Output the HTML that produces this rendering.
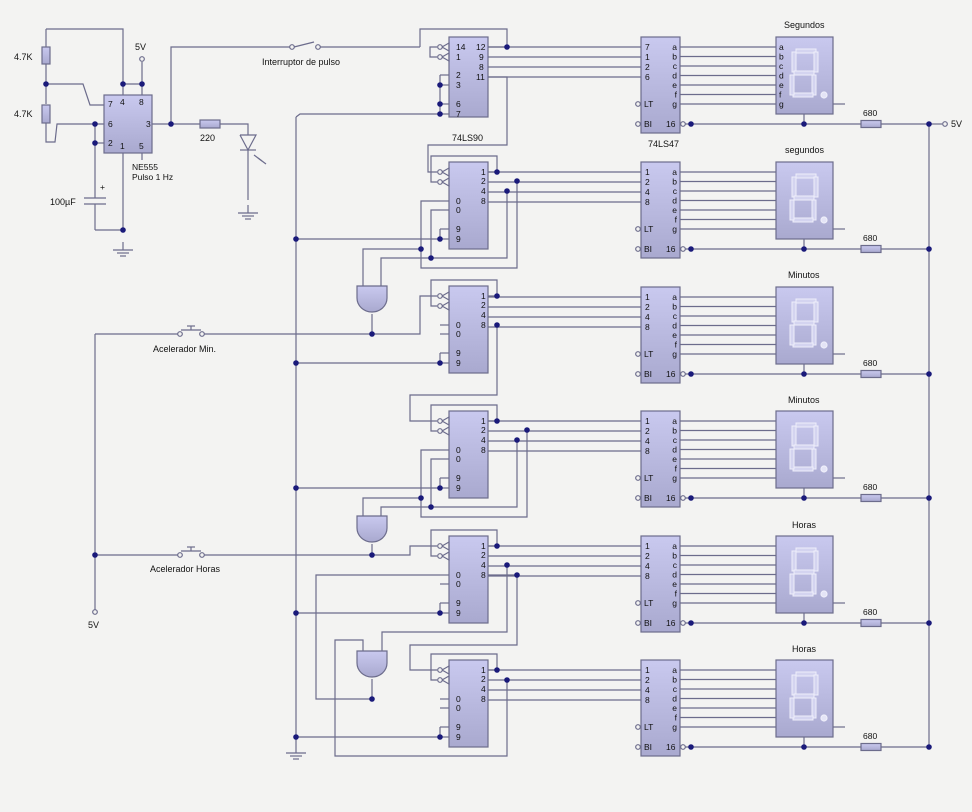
<!DOCTYPE html>
<html><head><meta charset="utf-8">
<style>
html,body{margin:0;padding:0;background:#f3f3f2;}
svg{display:block;}
text{font-family:"Liberation Sans",sans-serif;font-size:8.5px;fill:#111;}
.l{font-size:9px;}
</style></head><body>
<svg id="s" width="972" height="812" viewBox="0 0 972 812" xmlns="http://www.w3.org/2000/svg">
<defs>
<linearGradient id="g" x1="0" y1="0" x2="0" y2="1"><stop offset="0" stop-color="#c9c9ef"/><stop offset="1" stop-color="#a9a9cf"/></linearGradient>
</defs>
<g id="geo" stroke="#6c6c8c" stroke-width="1.2" fill="none"></g>
<g id="txt">
<text x="14" y="60" class="l">4.7K</text>
<text x="14" y="117" class="l">4.7K</text>
<text x="135" y="50" class="l">5V</text>
<text x="108" y="107">7</text><text x="120" y="105">4</text><text x="139" y="105">8</text>
<text x="108" y="127">6</text><text x="146" y="127">3</text>
<text x="108" y="146">2</text><text x="120" y="149">1</text><text x="139" y="149">5</text>
<text x="132" y="170">NE555</text><text x="132" y="180">Pulso 1 Hz</text>
<text x="200" y="141" class="l">220</text>
<text x="100" y="190">+</text>
<text x="50" y="205" class="l">100µF</text>
<text x="262" y="65" class="l">Interruptor de pulso</text>
<text x="452" y="141" class="l">74LS90</text>
<text x="648" y="147" class="l">74LS47</text>
<text x="153" y="352" class="l">Acelerador Min.</text>
<text x="150" y="572" class="l">Acelerador Horas</text>
<text x="88" y="628" class="l">5V</text>
<text x="951" y="127" class="l">5V</text>
<text x="456" y="50">14</text><text x="456" y="60">1</text><text x="456" y="78">2</text><text x="456" y="88">3</text><text x="456" y="107">6</text><text x="456" y="117">7</text>
<text x="476" y="50">12</text><text x="479" y="60">9</text><text x="479" y="70">8</text><text x="476" y="80">11</text>
<text x="784" y="28" class="l">Segundos</text>
<text x="785" y="153" class="l">segundos</text>
<text x="788" y="278" class="l">Minutos</text>
<text x="788" y="403" class="l">Minutos</text>
<text x="792" y="528" class="l">Horas</text>
<text x="792" y="652" class="l">Horas</text>
</g>
<g id="dots" fill="#1a1a7a"></g>
</svg>
<script>
const NS="http://www.w3.org/2000/svg";
const geo=document.getElementById('geo'),dots=document.getElementById('dots'),txt=document.getElementById('txt');
function el(p,n,a){const e=document.createElementNS(NS,n);for(const k in a)e.setAttribute(k,a[k]);p.appendChild(e);return e;}
function P(pts){el(geo,'polyline',{points:pts});}
function L(x1,y1,x2,y2){el(geo,'line',{x1,y1,x2,y2});}
function D(x,y){el(dots,'circle',{cx:x,cy:y,r:2.8});}
function R(x,y,w,h){el(geo,'rect',{x,y,width:w,height:h,fill:'url(#g)'});}
function O(x,y){el(geo,'circle',{cx:x,cy:y,r:2.3,fill:'#f3f3f2'});}
function T(x,y,s,anchor){const t=el(txt,'text',{x,y});if(anchor)t.setAttribute('text-anchor',anchor);t.textContent=s;}
function G(x,y){L(x,y,x,y+8);L(x-10,y+8,x+10,y+8);L(x-6,y+11,x+6,y+11);L(x-3,y+14,x+3,y+14);}
function clk(x,y){O(x-9,y);P(`${x-7},${y} ${x},${y-4} ${x},${y+4} ${x-7},${y}`);}
function AND(x,y){el(geo,'path',{d:`M${x} ${y} h30 v12 a15 14 0 0 1 -30 0 z`,fill:'url(#g)'});}

// 555
P("46,29 123,29 123,95");
L(46,29,46,104);R(42,47,8,17);
D(46,84);P("46,84 83,84 90,105 104,105");
R(42,105,8,18);P("46,123 46,142 55,142 57,124 104,124");
D(95,124);D(95,143);L(95,143,104,143);L(95,124,95,198);
L(84,198,106,198);L(84,204,106,204);
L(95,204,95,230);P("95,230 123,230");L(123,153,123,230);D(123,230);G(123,242);
D(123,84);D(142,84);L(123,84,142,84);L(142,62,142,95);O(142,59);
R(104,95,48,58);
L(142,153,142,160);
L(152,124,200,124);D(171,124);P("171,124 171,47 290,47");
O(292,47);O(318,47);L(294,47,314,42);L(320,47,420,47);
R(200,120,20,8);P("220,124 248,124 248,135");
P("240,135 256,135 248,150 240,135");L(240,150,256,150);L(248,150,248,200);G(248,205);
L(254,155,262,161);L(258,158,266,164);
// switches
L(95,334,95,610);O(95,612);D(95,555);
L(95,334,178,334);O(180,334);O(202,334);L(204,334,372,334);
L(181,330,201,330);L(191,326,191,330);L(187,326,195,326);
L(95,555,178,555);O(180,555);O(202,555);L(204,555,372,555);
L(181,551,201,551);L(191,547,191,551);L(187,547,195,547);

// ground bus
L(296,117,296,745);G(296,745);P("296,117 300,114 440,114");

// counter 0
R(449,37,39,80);
P("420,47 420,29 507,29 507,47");D(507,47);
clk(449,47);clk(449,57);P("437,47 430,47 430,57 437,57");
L(488,47,507,47);
L(440,75,449,75);L(440,85,449,85);L(440,104,449,104);L(440,114,449,114);
L(440,75,440,114);D(440,85);D(440,104);D(440,114);

// counters 1..5
const CT=[162,286,411,536,660];
CT.forEach((t,i)=>{
  R(449,t,39,87);
  clk(449,t+10);clk(449,t+20);
  T(481,t+13,"1");T(481,t+22,"2");T(481,t+32,"4");T(481,t+42,"8");
  T(456,t+42,"0");T(456,t+51,"0");T(456,t+70,"9");T(456,t+80,"9");
  L(440,t+39,449,t+39);L(440,t+48,449,t+48);L(440,t+67,449,t+67);L(440,t+77,449,t+77);
  L(440,t+67,440,t+77);D(440,t+77);L(296,t+77,440,t+77);D(296,t+77);
  D(497,t+10);
  P(`488,${t+10} 497,${t+10} 497,${t-6} 431,${t-6} 431,${t+20} 437,${t+20}`);
});
// clock1 inputs
P("488,77 507,77 507,145 428,145 428,172 437,172");
P("372,334 420,334 420,296 437,296");
D(497,325);P("497,325 497,395 410,395 410,421 437,421");
P("372,555 410,555 410,546 437,546");
// reset networks
function resetNet(t,gx,gy,o2x,o4x){
  D(o4x,t+29);D(o2x,t+19);
  P(`440,${t+39} 421,${t+39} 421,${t+106} ${o2x},${t+106} ${o2x},${t+19}`);
  P(`440,${t+48} 431,${t+48} 431,${t+96} ${o4x},${t+96} ${o4x},${t+29}`);
  D(421,t+87);D(431,t+96);
  P(`421,${t+87} ${gx+6},${t+87} ${gx+6},${gy}`);
  P(`431,${t+96} ${gx+24},${t+96} ${gx+24},${gy}`);
  AND(gx,gy);
}
resetNet(162,357,286,517,507);
resetNet(411,357,516,527,517);
L(372,314,372,334);D(372,334);
L(372,544,372,555);D(372,555);
// hours reset
D(507,565);D(517,575);
P("382,651 382,632 507,632 507,565");
P("363,651 363,640 335,640 335,756 507,756 507,680");D(507,680);
P("488,575 517,575 517,645 410,645 410,670 437,670");
AND(357,651);L(372,679,372,699);D(372,699);
P("372,699 316,699 316,575 440,575");

// decoders & displays
const DT=[37,162,287,411,536,660];
const segs="abcdefg";
DT.forEach((d,i)=>{
  R(641,d,39,96);
  for(let k=0;k<4;k++){const y=d+10+k*10;L(488,y,641,y);}
  const ins=i==0?["7","1","2","6"]:["1","2","4","8"];
  ins.forEach((s,k)=>T(645,d+13+k*10,s));
  O(638,d+67);T(644,d+70,"LT");O(638,d+87);T(644,d+90,"BI");
  T(666,d+90,"16");O(683,d+87);D(691,d+87);
  L(685,d+87,929,d+87);D(804,d+87);D(929,d+87);
  for(let k=0;k<7;k++){const y=d+10+k*9.5;L(680,y,776,y);T(677,y+3,segs[k],"end");if(i==0)T(779,y+3,segs[k]);}
  R(776,d,57,77);
  L(804,d+77,804,d+87);L(833,d+67,845,d+67);
  el(geo,'rect',{x:861,y:d+83.5,width:20,height:7,fill:'url(#g)'});
  T(863,d+79,"680");
  const sx=792,sy=d+12;
  const sf={fill:'#d4d4f0',stroke:'#eeeefa','stroke-width':1};
  [[sx+4,sy,20,4],[sx+22,sy+3,4,20],[sx+20,sy+26,4,20],[sx+1,sy+44,20,4],[sx-2,sy+26,4,20],[sx,sy+3,4,20],[sx+2,sy+22,20,4]].forEach(r=>el(geo,'rect',Object.assign({x:r[0],y:r[1],width:r[2],height:r[3]},sf)));
  el(geo,'circle',{cx:sx+32,cy:sy+46,r:3,fill:'#e4e4f6',stroke:'#eeeefa'});
});
L(929,124,929,747);L(929,124,942,124);O(945,124);
</script>
</body></html>
